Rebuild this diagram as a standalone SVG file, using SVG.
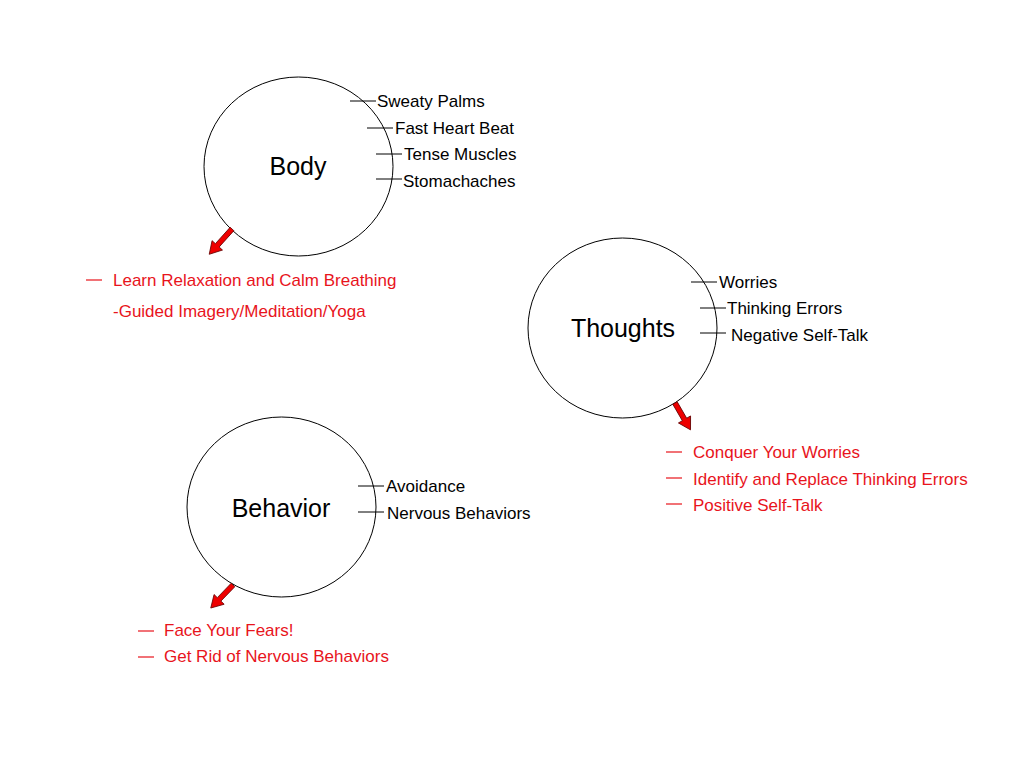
<svg xmlns="http://www.w3.org/2000/svg" width="1024" height="768" viewBox="0 0 1024 768">
<defs>
<style>
.node{fill:#fff;stroke:#000;stroke-width:1}
.title{font-family:"Liberation Sans",Arial,sans-serif;font-size:25px;fill:#000;text-anchor:middle}
.lbl{font-family:"Liberation Sans",Arial,sans-serif;font-size:17px;fill:#000}
.red{font-family:"Liberation Sans",Arial,sans-serif;font-size:17px;fill:#e8141c}
.tick{stroke:#000;stroke-width:1}
.rtick{stroke:#e8141c;stroke-width:1.2}
.arr{fill:#e00;stroke:#600;stroke-width:0.8}
</style>
</defs>
<rect width="1024" height="768" fill="#fff"/>
<g id="body">
<ellipse class="node" cx="298.5" cy="166.5" rx="94.5" ry="89.5"/>
<text class="title" x="298" y="175">Body</text>
</g>
<g id="thoughts">
<ellipse class="node" cx="622.5" cy="328" rx="94.5" ry="90"/>
<text class="title" x="623" y="337">Thoughts</text>
</g>
<g id="behavior">
<ellipse class="node" cx="281.5" cy="507" rx="94.5" ry="90"/>
<text class="title" x="281" y="517">Behavior</text>
</g>
<g id="connectors">
<line class="tick" x1="350" y1="101" x2="376" y2="101"/>
<line class="tick" x1="367" y1="128" x2="393" y2="128"/>
<line class="tick" x1="376" y1="154" x2="402" y2="154"/>
<line class="tick" x1="376" y1="179" x2="402" y2="179"/>
<line class="tick" x1="691" y1="282" x2="717" y2="282"/>
<line class="tick" x1="700" y1="308" x2="726" y2="308"/>
<line class="tick" x1="700" y1="333" x2="726" y2="333"/>
<line class="tick" x1="358" y1="486" x2="384" y2="486"/>
<line class="tick" x1="358" y1="512" x2="384" y2="512"/>
<line class="rtick" x1="86" y1="280" x2="102" y2="280"/>
<line class="rtick" x1="666" y1="452" x2="682" y2="452"/>
<line class="rtick" x1="666" y1="478" x2="682" y2="478"/>
<line class="rtick" x1="666" y1="504" x2="682" y2="504"/>
<line class="rtick" x1="138" y1="631" x2="154" y2="631"/>
<line class="rtick" x1="138" y1="657" x2="154" y2="657"/>
<polygon class="arr" transform="translate(232,229) rotate(132)" points="0,-2.5 22,-2.5 22,-7 34,0 22,7 22,2.5 0,2.5"/>
<polygon class="arr" transform="translate(675,403) rotate(60)" points="0,-2.5 19,-2.5 19,-7 31,0 19,7 19,2.5 0,2.5"/>
<polygon class="arr" transform="translate(233,585) rotate(134)" points="0,-2.5 20,-2.5 20,-7 32,0 20,7 20,2.5 0,2.5"/>
</g>
<g id="labels">
<text class="lbl" x="377" y="107">Sweaty Palms</text>
<text class="lbl" x="395" y="134">Fast Heart Beat</text>
<text class="lbl" x="404" y="160">Tense Muscles</text>
<text class="lbl" x="403" y="187">Stomachaches</text>
<text class="lbl" x="719" y="288">Worries</text>
<text class="lbl" x="727" y="314">Thinking Errors</text>
<text class="lbl" x="731" y="341">Negative Self-Talk</text>
<text class="lbl" x="386" y="492">Avoidance</text>
<text class="lbl" x="387" y="519">Nervous Behaviors</text>
<text class="red" x="113" y="286">Learn Relaxation and Calm Breathing</text>
<text class="red" x="113" y="317">-Guided Imagery/Meditation/Yoga</text>
<text class="red" x="693" y="458">Conquer Your Worries</text>
<text class="red" x="693" y="485">Identify and Replace Thinking Errors</text>
<text class="red" x="693" y="511">Positive Self-Talk</text>
<text class="red" x="164" y="636">Face Your Fears!</text>
<text class="red" x="164" y="662">Get Rid of Nervous Behaviors</text>
</g>
</svg>
